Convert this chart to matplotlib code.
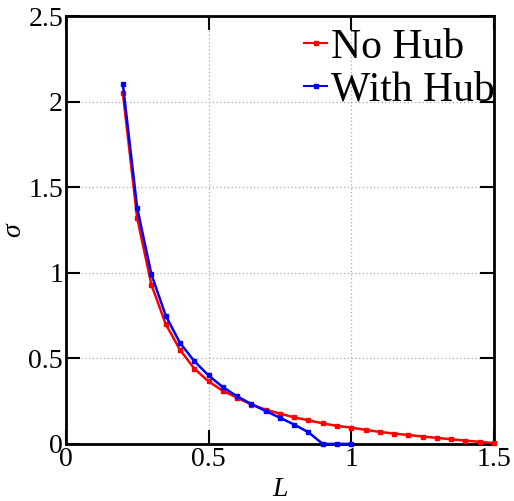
import matplotlib
matplotlib.use("Agg")
import matplotlib.pyplot as plt
import numpy as np

plt.rcParams['font.family'] = ['Liberation Serif', 'DejaVu Serif']
plt.rcParams['mathtext.fontset'] = 'custom'
plt.rcParams['mathtext.it'] = 'Liberation Serif:italic'
plt.rcParams['mathtext.rm'] = 'Liberation Serif'

L_no_hub = [0.2, 0.25, 0.3, 0.35, 0.4, 0.45, 0.5, 0.55, 0.6, 0.65, 0.7, 0.75, 0.8, 0.85,
            0.9, 0.95, 1.0, 1.05, 1.1, 1.15, 1.2, 1.25, 1.3, 1.35, 1.4, 1.45, 1.5]
sigma_no_hub = [2.05, 1.32, 0.93, 0.70, 0.55, 0.44, 0.365, 0.31, 0.27, 0.23, 0.20, 0.177,
                0.155, 0.138, 0.12, 0.105, 0.095, 0.082, 0.07, 0.06, 0.052, 0.043, 0.035,
                0.027, 0.019, 0.012, 0.004]

L_hub = [0.2, 0.25, 0.3, 0.35, 0.4, 0.45, 0.5, 0.55, 0.6, 0.65, 0.7, 0.75, 0.8, 0.85,
         0.9, 0.95, 1.0]
sigma_hub = [2.1, 1.38, 0.99, 0.75, 0.59, 0.484, 0.40, 0.332, 0.278, 0.233, 0.192, 0.153,
             0.113, 0.068, 0.0, 0.0, 0.0]

xticks = [0, 0.5, 1, 1.5]
xticklabels = ['0', '0.5', '1', '1.5']
yticks = [0, 0.5, 1, 1.5, 2, 2.5]
yticklabels = ['0', '0.5', '1', '1.5', '2', '2.5']

fig = plt.figure(figsize=(5.14, 5.01), dpi=100)
ax = fig.add_axes([0.128, 0.114, 0.833, 0.854])

ax.plot(L_no_hub, sigma_no_hub, color='#ff0000', lw=1.8, marker='s', ms=3.5,
        label='No Hub', clip_on=False, zorder=3)
ax.plot(L_hub, sigma_hub, color='#0000ff', lw=1.8, marker='s', ms=3.5,
        label='With Hub', clip_on=False, zorder=3)

ax.set_xlim(0, 1.5)
ax.set_ylim(0, 2.5)
ax.set_xticks(xticks)
ax.set_xticklabels(xticklabels)
ax.set_yticks(yticks)
ax.set_yticklabels(yticklabels)
ax.tick_params(direction='in', length=10, width=1.5, labelsize=20, pad=2,
               top=True, right=True)
for s in ax.spines.values():
    s.set_linewidth(2)
ax.grid(True, color='#aaaaaa', linestyle=(0, (1, 2)), linewidth=0.9)
ax.set_axisbelow(True)

ax.set_xlabel('$L$', fontsize=20, labelpad=4)
ax.set_ylabel(r'$\sigma$', fontsize=20, labelpad=1)

leg = ax.legend(loc='upper right', frameon=False, fontsize=30, handlelength=0.55,
                handletextpad=0.1, borderaxespad=0.0, labelspacing=0.1,
                borderpad=0.0, bbox_to_anchor=(1.003, 0.972))
for h in leg.legend_handles:
    h.set_markersize(3)
    h.set_linewidth(1.5)

fig.savefig('out.png', dpi=100)
